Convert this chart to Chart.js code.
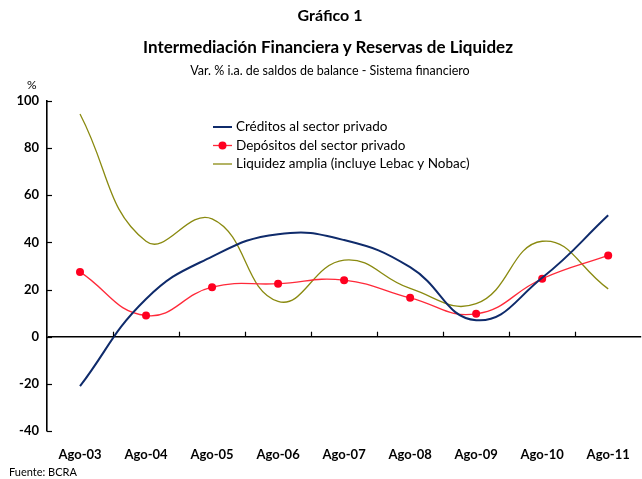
<!DOCTYPE html>
<html>
<head>
<meta charset="utf-8">
<script src="https://cdn.jsdelivr.net/npm/chart.js@4/dist/chart.umd.min.js"></script>
<style>
	html, body { margin: 0; padding: 0; background: #fff; overflow: hidden; }
	body { width: 642px; height: 479px; position: relative; font-family: Lato, "DejaVu Sans", sans-serif; color: #000; }
	#chartBox { position: absolute; left: 0; top: 0; width: 646px; height: 479px; }
	.txt { position: absolute; white-space: nowrap; }
	#t1 { left: 0; width: 660px; text-align: center; top: 5px; font-weight: bold; font-size: 16px; }
	#t2 { left: 0; width: 656px; text-align: center; top: 36px; font-weight: bold; font-size: 17px; }
	#t3 { left: 0; width: 660px; text-align: center; top: 63px; font-size: 12.5px; }
	#pct { left: 27px; top: 77px; font-size: 12px; }
	#src { left: 9px; top: 465px; font-size: 11px; }
</style>
</head>
<body>
	<div id="chartBox"><canvas id="grafico" width="646" height="479"></canvas></div>
	<div class="txt" id="t1">Gráfico 1</div>
	<div class="txt" id="t2">Intermediación Financiera y Reservas de Liquidez</div>
	<div class="txt" id="t3">Var. % i.a. de saldos de balance - Sistema financiero</div>
	<div class="txt" id="pct">%</div>
	<div class="txt" id="src">Fuente: BCRA</div>

	<script>
		// Data
		var periodos = ["Ago-03", "Ago-04", "Ago-05", "Ago-06", "Ago-07", "Ago-08", "Ago-09", "Ago-10", "Ago-11"];
		var creditos = [-21, 16, 34, 43.5, 41, 29.5, 7, 25, 51.5];
		var depositos = [27.5, 9, 21, 22.5, 24, 16.5, 9.7, 24.6, 34.5];
		var liquidez = [94.5, 40.5, 50, 15, 32.5, 20.5, 14, 40.5, 20.3];
		var yTicks = [-40, -20, 0, 20, 40, 60, 80, 100];

		var fontFam = "Lato, 'DejaVu Sans', sans-serif";

		// legend drawn inside the plot area, plus inward tick marks
		var extras = {
			id: 'extras',
			afterDraw: function (chart) {
				var ctx = chart.ctx;
				var x = chart.scales.x, y = chart.scales.y;
				ctx.save();
				ctx.strokeStyle = '#000';
				ctx.lineWidth = 1.2;
				// y ticks pointing right
				yTicks.forEach(function (v) {
					var py = Math.round(y.getPixelForValue(v)) + 0.5;
					ctx.beginPath();
					ctx.moveTo(y.right, py);
					ctx.lineTo(y.right + 5, py);
					ctx.stroke();
				});
				// x ticks between categories, pointing up from zero line
				var y0 = y.getPixelForValue(0);
				var step = x.getPixelForValue(1) - x.getPixelForValue(0);
				for (var i = 1; i < periodos.length; i++) {
					var px = Math.round(x.getPixelForValue(i) - step / 2) + 0.5;
					ctx.beginPath();
					ctx.moveTo(px, y0);
					ctx.lineTo(px, y0 - 5);
					ctx.stroke();
				}
				// legend
				var lx = 213, ly = 127, gap = 18.5;
				ctx.font = "13.5px " + fontFam;
				ctx.textBaseline = 'middle';
				chart.data.datasets.forEach(function (ds, k) {
					var yy = ly + k * gap;
					ctx.strokeStyle = ds.borderColor;
					ctx.lineWidth = ds.borderWidth;
					ctx.beginPath();
					ctx.moveTo(lx, yy);
					ctx.lineTo(lx + 19, yy);
					ctx.stroke();
					if (ds.pointRadius > 0) {
						ctx.fillStyle = ds.pointBackgroundColor;
						ctx.beginPath();
						ctx.arc(lx + 9.5, yy, ds.pointRadius, 0, Math.PI * 2);
						ctx.fill();
					}
					ctx.fillStyle = '#000';
					ctx.fillText(ds.label, lx + 23, yy);
				});
				ctx.restore();
			}
		};

		var ctx = document.getElementById("grafico").getContext("2d");
		var chart = new Chart(ctx, {
			type: 'line',
			data: {
				labels: periodos,
				datasets: [
					{
						label: "Créditos al sector privado",
						data: creditos,
						borderColor: '#0f2b6b',
						borderWidth: 2,
						pointRadius: 0,
						tension: 0.45
					},
					{
						label: "Depósitos del sector privado",
						data: depositos,
						borderColor: '#ff2a3a',
						borderWidth: 1.3,
						pointRadius: 4,
						pointBackgroundColor: '#ff0020',
						pointBorderWidth: 0,
						tension: 0.45
					},
					{
						label: "Liquidez amplia (incluye Lebac y Nobac)",
						data: liquidez,
						borderColor: '#8a8a10',
						borderWidth: 1.3,
						pointRadius: 0,
						tension: 0.45
					}
				]
			},
			options: {
				responsive: false,
				animation: false,
				events: [],
				layout: { padding: { top: 101, left: 0, right: 0, bottom: 0 } },
				plugins: {
					legend: { display: false },
					tooltip: { enabled: false }
				},
				scales: {
					x: {
						type: 'category',
						offset: true,
						grid: { display: false, drawTicks: false },
						border: { display: false },
						ticks: {
							color: '#000',
							font: { family: fontFam, weight: 'bold', size: 13 },
							padding: 16,
							maxRotation: 0,
							autoSkip: false
						},
						afterFit: function (s) { s.height = 48; }
					},
					y: {
						min: -40,
						max: 100,
						afterBuildTicks: function (s) {
							s.ticks = yTicks.map(function (v) { return { value: v }; });
						},
						grid: {
							drawTicks: false,
							color: function (c) { return c.tick && c.tick.value === 0 ? '#000' : 'rgba(0,0,0,0)'; },
							lineWidth: 1.6
						},
						border: { display: true, color: '#000', width: 1.6 },
						ticks: {
							color: '#000',
							font: { family: fontFam, weight: 'bold', size: 13 },
							padding: 8
						},
						afterFit: function (s) { s.width = 47; }
					}
				}
			},
			plugins: [extras]
		});
	</script>
</body>
</html>
